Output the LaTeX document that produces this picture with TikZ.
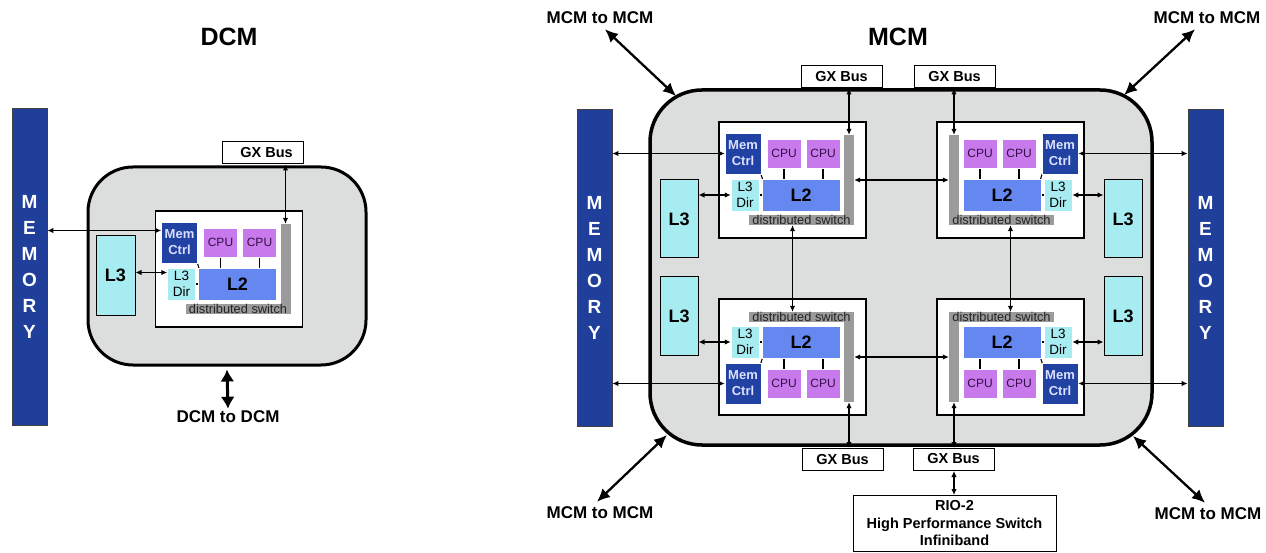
\documentclass[tikz,border=0pt]{standalone}
\usepackage{fontspec}
\setmainfont{Liberation Sans}
\usetikzlibrary{arrows.meta,calc}
\pgfdeclarelayer{bg}
\pgfdeclarelayer{mid}
\pgfsetlayers{bg,mid,main}
\definecolor{grayfill}{RGB}{220,221,221}
\definecolor{membarcol}{RGB}{31,63,155}
\definecolor{mcblue}{RGB}{33,66,162}
\definecolor{mctext}{RGB}{218,224,255}
\definecolor{cpucol}{RGB}{200,122,236}
\definecolor{cputext}{RGB}{50,15,70}
\definecolor{ltwocol}{RGB}{100,136,240}
\definecolor{lthreecol}{RGB}{166,236,240}
\definecolor{swgray}{RGB}{155,155,155}
\definecolor{swtext}{RGB}{35,35,35}
\tikzset{
  sub/.style={draw=white, line width=0.5pt, inner sep=0pt, align=center},
  memctrl/.style={sub, fill=mcblue, text=mctext, font=\bfseries\fontsize{13}{16}\selectfont, minimum width=36pt, minimum height=41pt},
  cpu/.style={sub, fill=cpucol, text=cputext, font=\fontsize{12}{13}\selectfont, minimum width=34pt, minimum height=29pt},
  ltwo/.style={sub, fill=ltwocol, text=black, font=\bfseries\fontsize{18}{20}\selectfont, minimum width=78pt, minimum height=32pt},
  ldir/.style={sub, fill=lthreecol, text=black, font=\fontsize{13.5}{15.5}\selectfont, minimum width=28pt, minimum height=32pt},
  vsw/.style={fill=swgray, minimum width=10pt, minimum height=90pt, inner sep=0pt},
  hsw/.style={fill=swgray, minimum width=105pt, minimum height=10pt, inner sep=0pt, text=swtext, font=\fontsize{12.8}{12.8}\selectfont},
  chipbox/.style={draw=black, line width=1.3pt, fill=white, minimum width=147pt, minimum height=116pt, inner sep=0pt},
  lthree/.style={draw=black, line width=1pt, fill=lthreecol, minimum width=38pt, minimum height=78pt, inner sep=0pt, font=\bfseries\fontsize{18}{20}\selectfont},
  membar/.style={draw=black!75, line width=0.8pt, fill=membarcol, minimum width=35pt, minimum height=317pt, inner sep=0pt, text=white, align=center, font=\bfseries\fontsize{19}{26}\selectfont},
  gxbox/.style={draw=black, line width=1pt, fill=white, minimum width=81pt, minimum height=22pt, inner sep=0pt, font=\bfseries\fontsize{14.5}{16}\selectfont},
  module/.style={draw=black, fill=grayfill, inner sep=0pt},
  sarr/.style={line width=1.1pt, {Latex[length=6pt,width=5.5pt]}-{Latex[length=6pt,width=5.5pt]}},
  barr/.style={line width=2.3pt, {Latex[length=13pt,width=12pt]}-{Latex[length=13pt,width=12pt]}},
  lbl/.style={font=\bfseries\fontsize{17}{18}\selectfont, inner sep=2pt},
  ttl/.style={font=\bfseries\fontsize{25}{28}\selectfont},
  tick/.style={line width=1.1pt, draw=black},
}
\newcommand{\mkchip}[5]{%
\begin{scope}[shift={(#2,#3)},xscale=#4,yscale=#5]
  \begin{pgfonlayer}{bg}\node[chipbox] (#1) at (0,0) {};\end{pgfonlayer}
  \node[memctrl] (#1mem) at (-49.5,-26.5) {Mem\\Ctrl};
  \node[cpu] (#1ca) at (-8.5,-26.5) {CPU};
  \node[cpu] (#1cb) at (30.5,-26.5) {CPU};
  \node[ltwo] (#1ltwo) at (8.5,15) {L2};
  \node[ldir] (#1dir) at (-47.5,15) {L3\\Dir};
  \node[vsw] (#1vsw) at (56.5,0) {};
  \node[hsw] (#1hsw) at (9,40) {distributed switch};
  \begin{pgfonlayer}{mid}
    \draw[tick] (#1ca.center) -- (#1ca.center |- #1ltwo.center);
    \draw[tick] (#1cb.center) -- (#1cb.center |- #1ltwo.center);
    \draw[tick] (#1dir.center) -- (#1ltwo.center);
    \draw[tick] (-32,-7) -- (-30,-1);
  \end{pgfonlayer}
\end{scope}}
\begin{document}
\begin{tikzpicture}[x=1pt,y=-1pt]
\useasboundingbox (0,0) rectangle (1266,553);
\begin{pgfonlayer}{bg}
  \fill[white] (0,0) rectangle (1266,553);
  \node[module, line width=3pt, rounded corners=45pt, minimum width=278pt, minimum height=198pt] (dcm) at (227,266) {};
  \node[module, line width=3.5pt, rounded corners=52pt, minimum width=502pt, minimum height=355pt] (mcm) at (901,267.5) {};
\end{pgfonlayer}

% ---------- DCM ----------
\node[ttl] (dcmt) at (229,37) {DCM};
\node[membar] (memD) at (29.5,266.5) {M\\E\\M\\O\\R\\Y};
\mkchip{d}{229}{269}{1}{1}
\node[lthree] (dlthree) at (115.5,275.5) [minimum width=39pt, minimum height=79pt] {L3};
\node[gxbox] (dgx) at (262.5,153) {\hspace*{8pt}GX Bus};
\node[lbl] (ddlbl) at (228,417) {DCM to DCM};
\draw[sarr] ([yshift=12pt]dmem.west) -- ([yshift=12pt]dmem.west -| memD.east);
\draw[sarr] ([yshift=11.5pt]ddir.west) -- ([yshift=11.5pt]ddir.west -| dlthree.east);
\draw[sarr] (dvsw.north) -- (dvsw.north |- dgx.south);
\draw[line width=3pt, {Latex[length=12pt,width=14pt]}-{Latex[length=12pt,width=14pt]}] ([yshift=-3pt]dcm.south) -- (ddlbl.north);

% ---------- MCM ----------
\node[ttl] (mcmt) at (898,37) {MCM};
\node[membar] (memL) at (594.5,267.5) {M\\E\\M\\O\\R\\Y};
\node[membar] (memR) at (1205.5,267.5) {M\\E\\M\\O\\R\\Y};
\mkchip{tl}{792.5}{180}{1}{1}
\mkchip{tr}{1010.5}{180}{-1}{1}
\mkchip{bl}{792.5}{357}{1}{-1}
\mkchip{br}{1010.5}{357}{-1}{-1}
\node[lthree] (Ltl) at (679,219) {L3};
\node[lthree] (Lbl) at (679,316) {L3};
\node[lthree] (Ltr) at (1123,219) {L3};
\node[lthree] (Lbr) at (1123,316) {L3};
\node[gxbox] (gxtl) at (841.5,77) {GX Bus};
\node[gxbox] (gxtr) at (954.5,77) {GX Bus};
\node[gxbox] (gxbl) at (842.5,459.5) {GX Bus};
\node[gxbox] (gxbr) at (953.5,459.5) {\raisebox{2pt}{GX Bus}};
\node[draw=black, line width=1pt, fill=white, minimum width=203pt, minimum height=56pt, align=center, font=\bfseries\fontsize{14.5}{17.5}\selectfont] (rio) at (954.5,523.5) {RIO-2\\High Performance Switch\\Infiniband};

% memory links
\draw[sarr] (tlmem.west) -- (tlmem.west -| memL.east);
\draw[sarr] (blmem.west) -- (blmem.west -| memL.east);
\draw[sarr] (trmem.east) -- (trmem.east -| memR.west);
\draw[sarr] (brmem.east) -- (brmem.east -| memR.west);
% L3 links
\draw[sarr] (tldir.west) -- (tldir.west -| Ltl.east);
\draw[sarr] (bldir.west) -- (bldir.west -| Lbl.east);
\draw[sarr] (trdir.east) -- (trdir.east -| Ltr.west);
\draw[sarr] (brdir.east) -- (brdir.east -| Lbr.west);
% switch links
\draw[sarr] (tlvsw) -- (trvsw);
\draw[sarr] (blvsw) -- (brvsw);
\draw[sarr] (tlhsw.south -| tl) -- (blhsw.north -| tl);
\draw[sarr] (trhsw.south -| tr) -- (brhsw.north -| tr);
% GX links
\draw[sarr] (tlvsw.north) -- (tlvsw.north |- gxtl.south);
\draw[sarr] (trvsw.north) -- (trvsw.north |- gxtr.south);
\draw[sarr] (blvsw.south) -- (blvsw.south |- gxbl.north);
\draw[sarr] (brvsw.south) -- (brvsw.south |- gxbr.north);
\draw[sarr] (gxbr.south -| brvsw) -- (rio.north -| brvsw);

% MCM to MCM
\node[lbl] (m1) at (600,18) {MCM to MCM};
\node[lbl] (m2) at (1207,18) {MCM to MCM};
\node[lbl] (m3) at (600,513) {MCM to MCM};
\node[lbl] (m4) at (1208,514) {MCM to MCM};
\coordinate (c1) at (676,96);
\coordinate (c2) at (1124,95);
\coordinate (c3) at (667,435);
\coordinate (c4) at (1133,436);
\draw[barr] ([xshift=5pt,yshift=-3pt]m1.south) -- (c1);
\draw[barr] ([xshift=-12pt,yshift=-3pt]m2.south) -- (c2);
\draw[barr] ([xshift=-3pt,yshift=3pt]m3.north) -- (c3);
\draw[barr] ([xshift=-3pt,yshift=3pt]m4.north) -- (c4);
\end{tikzpicture}
\end{document}
